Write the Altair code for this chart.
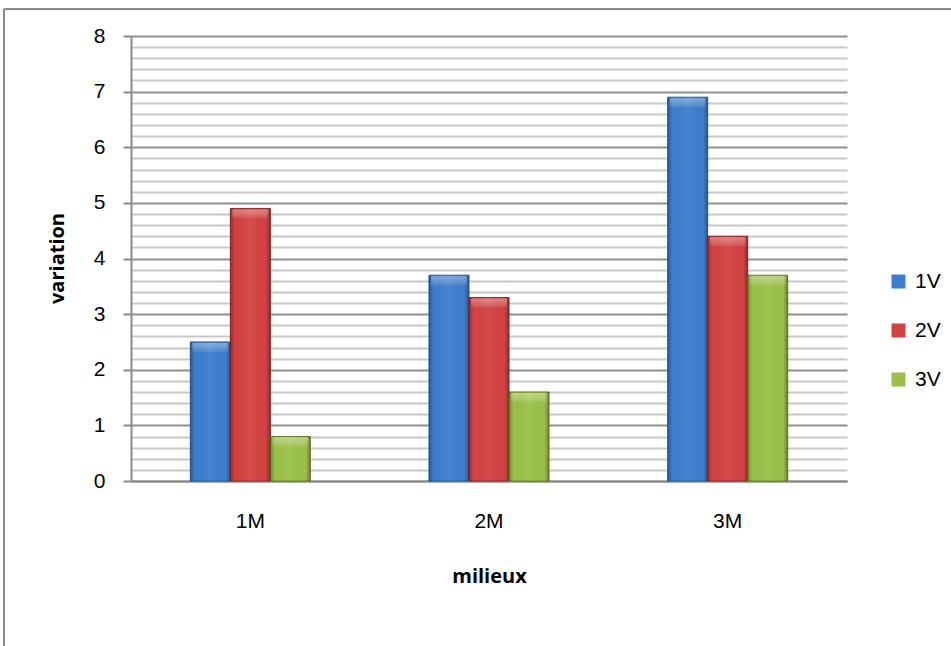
import altair as alt
import pandas as pd

categories = ["1M", "2M", "3M"]
series = ["1V", "2V", "3V"]
values_1v = [2.5, 3.7, 6.9]
values_2v = [4.9, 3.3, 4.4]
values_3v = [0.8, 1.6, 3.7]
y_ticks = [0, 0.2, 0.4, 0.6, 0.8, 1, 1.2, 1.4, 1.6, 1.8, 2, 2.2, 2.4, 2.6, 2.8,
           3, 3.2, 3.4, 3.6, 3.8, 4, 4.2, 4.4, 4.6, 4.8, 5, 5.2, 5.4, 5.6, 5.8,
           6, 6.2, 6.4, 6.6, 6.8, 7, 7.2, 7.4, 7.6, 7.8, 8]
fill_colors = ["#3c7ece", "#d34242", "#9bc049"]
edge_colors = ["#2b5d9c", "#8e2a2a", "#66822e"]

rows = []
for s, vals in zip(series, [values_1v, values_2v, values_3v]):
    for c, v in zip(categories, vals):
        rows.append({"milieu": c, "serie": s, "variation": v})
df = pd.DataFrame(rows)

FONT = "Liberation Sans"
TFONT = "Open Sans"
W, H = 716, 445
major = "abs(datum.value - round(datum.value)) < 0.001"

x_enc = alt.X(
    "milieu:N", sort=categories,
    scale=alt.Scale(paddingInner=0.497, paddingOuter=0.2485),
    axis=alt.Axis(
        title="milieux", labelAngle=0, tickSize=0, labelPadding=29,
        labelFont=FONT, labelFontSize=21, labelColor="#000000",
        domainColor="#8a8a8a", domainWidth=2,
        titleFont=TFONT, titleFontSize=20, titleFontWeight="bold", titleColor="#000000",
        titleBaseline="alphabetic", titleY=101, titleX=W / 2, titleAlign="center",
    ),
)
y_enc = alt.Y(
    "variation:Q",
    scale=alt.Scale(domain=[0, 8], nice=False, zero=True),
    axis=alt.Axis(
        title="variation", values=y_ticks, tickCount=60, labelOverlap=False,
        labelExpr="abs(datum.value - round(datum.value)) < 0.001 ? format(datum.value, 'd') : ''",
        labelFont=FONT, labelFontSize=21, labelColor="#000000", labelPadding=18,
        tickSize=8, tickWidth=2, tickColor="#8a8a8a",
        tickOpacity={"condition": {"test": major, "value": 1}, "value": 0},
        grid=True, gridWidth=2,
        gridColor={"condition": {"test": major, "value": "#8f8f8f"}, "value": "#c8c8c8"},
        domainColor="#8a8a8a", domainWidth=2,
        titleFont=TFONT, titleFontSize=20, titleFontWeight="bold", titleColor="#000000",
        titleAngle=270, titleBaseline="alphabetic", titleAlign="center",
        titleX=-68, titleY=222,
    ),
)

bars = alt.Chart(df).mark_bar(strokeWidth=1).encode(
    x=x_enc,
    y=y_enc,
    xOffset=alt.XOffset("serie:N", sort=series),
    color=alt.Color(
        "serie:N", sort=series,
        scale=alt.Scale(domain=series, range=fill_colors),
        legend=alt.Legend(
            title=None, orient="none", legendX=757, legendY=235,
            labelFont=FONT, labelFontSize=21, labelColor="#000000", labelOffset=6,
            symbolType="square", symbolSize=196, symbolStrokeWidth=0,
            rowPadding=27, padding=0,
        ),
    ),
    stroke=alt.Stroke("serie:N", scale=alt.Scale(domain=series, range=edge_colors), legend=None),
)

shade = alt.Chart(df).mark_bar(
    color=alt.Gradient(
        gradient="linear", x1=0, x2=1, y1=0, y2=0,
        stops=[
            alt.GradientStop(offset=0, color="rgba(0,0,0,0.28)"),
            alt.GradientStop(offset=0.12, color="rgba(0,0,0,0.0)"),
            alt.GradientStop(offset=0.5, color="rgba(255,255,255,0.06)"),
            alt.GradientStop(offset=0.88, color="rgba(0,0,0,0.0)"),
            alt.GradientStop(offset=1, color="rgba(0,0,0,0.3)"),
        ],
    )
).encode(
    x=x_enc,
    y=y_enc,
    xOffset=alt.XOffset("serie:N", sort=series),
)

highlight = alt.Chart(df).mark_tick(
    orient="horizontal", size=36, thickness=9, yOffset=5.5,
    color=alt.Gradient(
        gradient="linear", x1=0, x2=0, y1=0, y2=1,
        stops=[
            alt.GradientStop(offset=0, color="rgba(255,255,255,0.35)"),
            alt.GradientStop(offset=1, color="rgba(255,255,255,0.08)"),
        ],
    ),
    opacity=1,
).encode(
    x=x_enc,
    y=y_enc,
    xOffset=alt.XOffset("serie:N", sort=series),
)

one = pd.DataFrame({"k": [0]})
border_top = alt.Chart(one).mark_rule(color="#8a8a8a", strokeWidth=2).encode(
    x=alt.value(-127), x2=alt.value(830), y=alt.value(-27)
)
border_left = alt.Chart(one).mark_rule(color="#8a8a8a", strokeWidth=2).encode(
    x=alt.value(-127), y=alt.value(-27), y2=alt.value(620)
)

chart = alt.layer(bars, shade, highlight, border_top, border_left).properties(
    width=W, height=H,
    autosize=alt.AutoSizeParams(type="none"),
    padding={"left": 131, "top": 36, "right": 104, "bottom": 165},
    background="#ffffff",
).configure_view(stroke=None)

chart.save("out.html", embed_options={"renderer": "svg", "actions": False})
